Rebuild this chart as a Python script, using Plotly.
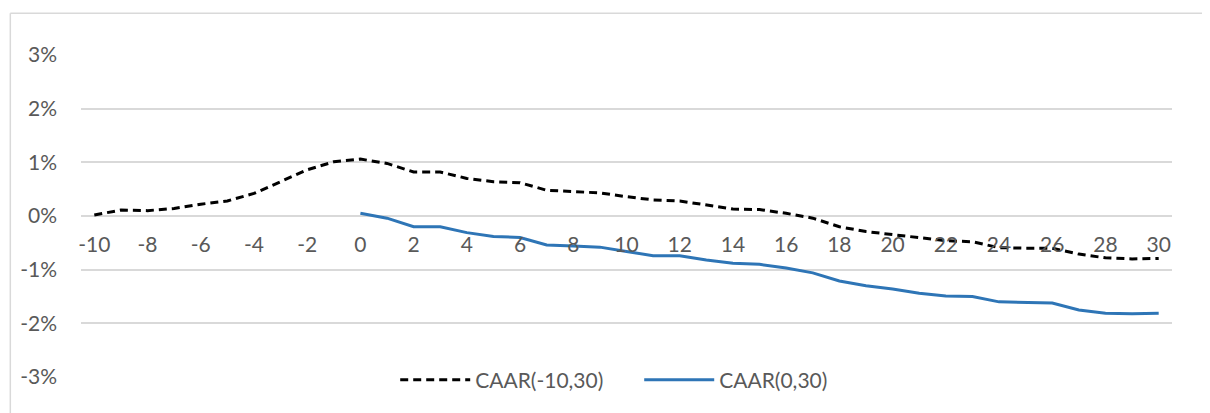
import plotly.graph_objects as go

event_days = list(range(-10, 31))
caar_m10_30 = [0.02, 0.11, 0.10, 0.14, 0.22, 0.28, 0.42, 0.64, 0.86, 1.01, 1.06,
               0.98, 0.82, 0.82, 0.70, 0.64, 0.62, 0.48, 0.45, 0.43, 0.36,
               0.30, 0.28, 0.20, 0.13, 0.12, 0.05, -0.04, -0.20, -0.29, -0.35,
               -0.41, -0.46, -0.48, -0.59, -0.60, -0.60, -0.71, -0.78, -0.80, -0.79]
post_days = list(range(0, 31))
caar_0_30 = [0.05, -0.04, -0.20, -0.20, -0.31, -0.38, -0.40, -0.54, -0.56, -0.58, -0.66,
             -0.74, -0.74, -0.82, -0.88, -0.90, -0.97, -1.06, -1.21, -1.30, -1.36,
             -1.44, -1.49, -1.50, -1.60, -1.61, -1.62, -1.75, -1.81, -1.82, -1.81]
y_ticks = [-3, -2, -1, 0, 1, 2, 3]
y_tick_labels = ["-3%", "-2%", "-1%", "0%", "1%", "2%", "3%"]
x_ticks = list(range(-10, 31, 2))

FONT = "Lato"
GREY_TXT = "#595959"
GRID = "#d9d9d9"
FS = 21

fig = go.Figure()
fig.add_trace(go.Scatter(x=event_days, y=caar_m10_30, mode="lines", name="CAAR(-10,30)",
                         line=dict(color="#000000", width=3, dash="8px,5px")))
fig.add_trace(go.Scatter(x=post_days, y=caar_0_30, mode="lines", name="CAAR(0,30)",
                         line=dict(color="#2E75B6", width=3)))

W, H = 1202, 405
ml, mr, mt, mb = 68, 38, 47, 35
fig.update_layout(
    width=W, height=H,
    margin=dict(l=ml, r=mr, t=mt, b=mb),
    paper_bgcolor="white", plot_bgcolor="white",
    font=dict(family=FONT, size=FS, color=GREY_TXT),
    showlegend=True,
    legend=dict(orientation="h", x=0.288, xanchor="left", y=-0.01, yanchor="middle",
                bgcolor="rgba(0,0,0,0)", font=dict(family=FONT, size=FS, color=GREY_TXT),
                itemwidth=70, tracegroupgap=0, entrywidth=159),
    xaxis=dict(range=[-10.5, 30.5], tickmode="array", tickvals=x_ticks,
               ticktext=[str(v) for v in x_ticks], showgrid=False, zeroline=False,
               showline=False, ticks="", anchor="free", position=0.5,
               ticklabelstandoff=14, tickfont=dict(family=FONT, size=FS, color=GREY_TXT)),
    yaxis=dict(range=[-3, 3], tickmode="array", tickvals=y_ticks, ticktext=y_tick_labels,
               showgrid=True, gridcolor=GRID, gridwidth=1.5, zeroline=False, showline=False,
               ticks="", ticklabelstandoff=23, tickfont=dict(family=FONT, size=FS, color=GREY_TXT)),
)

# chart-area border (left and top edges visible)
pw = W - ml - mr
ph = H - mt - mb
def px_x(p):
    return (p - ml) / pw
def px_y(p):
    return (H - mb - p) / ph
fig.add_shape(type="line", xref="paper", yref="paper", x0=px_x(-3), x1=px_x(-3),
              y0=px_y(5), y1=px_y(420), line=dict(color=GRID, width=1.5))
fig.add_shape(type="line", xref="paper", yref="paper", x0=px_x(-3), x1=px_x(1215),
              y0=px_y(5), y1=px_y(5), line=dict(color=GRID, width=1.5))

fig.write_html("out.html")
